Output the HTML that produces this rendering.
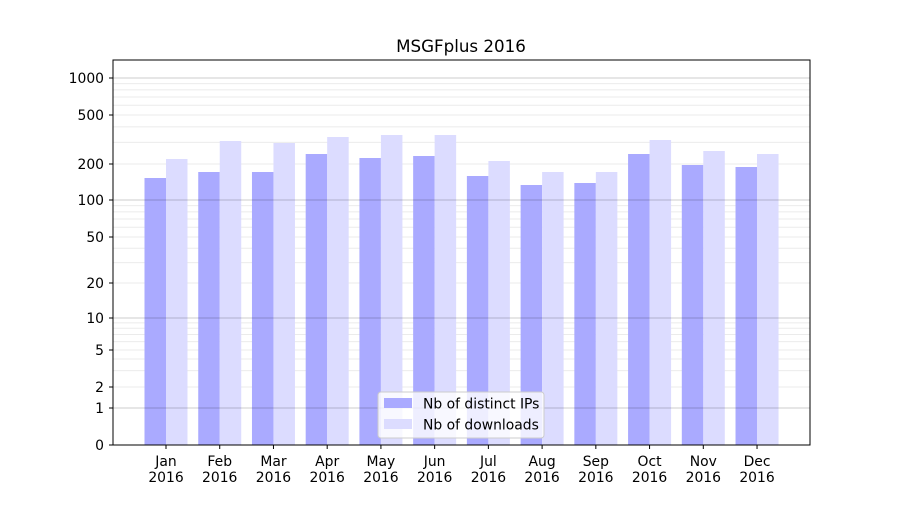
<!DOCTYPE html>
<html><head><meta charset="utf-8"><style>body{margin:0;background:#fff}svg{font-family:"DejaVu Sans","Liberation Sans",sans-serif}</style></head>
<body><svg id="s" width="900" height="500" xmlns="http://www.w3.org/2000/svg"></svg>
<script>
const s=document.getElementById('s');let h='';
const D=[[1,408],[2,387],[5,350],[10,318],[20,283],[50,237],[100,200],[200,164],[500,115],[1000,78],[10000,-44]];
function Y(v){if(v<=1)return 445-37*v;for(let i=0;i<D.length-1;i++){if(v<=D[i+1][0]){const a=Math.log10(D[i][0]),b=Math.log10(D[i+1][0]);return D[i][1]+(D[i+1][1]-D[i][1])*(Math.log10(v)-a)/(b-a);}}}
for(let d of [1,10,100]){for(let k=2;k<=9;k++){const y=Y(d*k);h+=`<line x1="113" x2="810" y1="${y}" y2="${y}" stroke="#ebebeb" stroke-width="1"/>`;}}
const tops=[[178,159],[172,141],[172,143],[154,137],[158,135],[156,135],[176,161],[185,172],[183,172],[154,140],[165,151],[167,154]];
const M=['Jan','Feb','Mar','Apr','May','Jun','Jul','Aug','Sep','Oct','Nov','Dec'];
for(let i=0;i<12;i++){const c=166+i*53.73;const[a,b]=tops[i];
h+=`<rect x="${c-21.5}" y="${a}" width="21.5" height="${445-a}" fill="#aaaaff"/>`;
h+=`<rect x="${c}" y="${b}" width="21.5" height="${445-b}" fill="#dcdcff"/>`;
h+=`<line x1="${c}" x2="${c}" y1="445" y2="449" stroke="#000"/>`;
h+=`<text x="${c}" y="466" font-size="13.9" text-anchor="middle">${M[i]}</text><text x="${c}" y="482" font-size="13.9" text-anchor="middle">2016</text>`;}
for(const v of [0,1,2,5,10,20,50,100,200,500,1000]){const y=Y(v);
if([1,10,100,1000].includes(v))h+=`<line x1="113" x2="810" y1="${y}" y2="${y}" stroke="#000" stroke-opacity="0.2"/>`;
h+=`<line x1="109" x2="113" y1="${y}" y2="${y}" stroke="#000"/><text x="104" y="${y+5}" font-size="13.9" text-anchor="end">${v}</text>`;}
h+=`<rect x="113" y="60" width="697" height="385" fill="none" stroke="#000"/>`;
h+=`<text x="461" y="52" font-size="16.7" text-anchor="middle">MSGFplus 2016</text>`;
h+=`<rect x="378" y="392" width="166" height="46" rx="3" fill="#fff" fill-opacity="0.8" stroke="#ccc"/>`;
h+=`<rect x="384" y="398" width="28" height="10" fill="#aaaaff"/><text x="423" y="408.5" font-size="13.9">Nb of distinct IPs</text>`;
h+=`<rect x="384" y="419" width="28" height="10" fill="#dcdcff"/><text x="423" y="429.5" font-size="13.9">Nb of downloads</text>`;
s.innerHTML=h;
</script></body></html>
